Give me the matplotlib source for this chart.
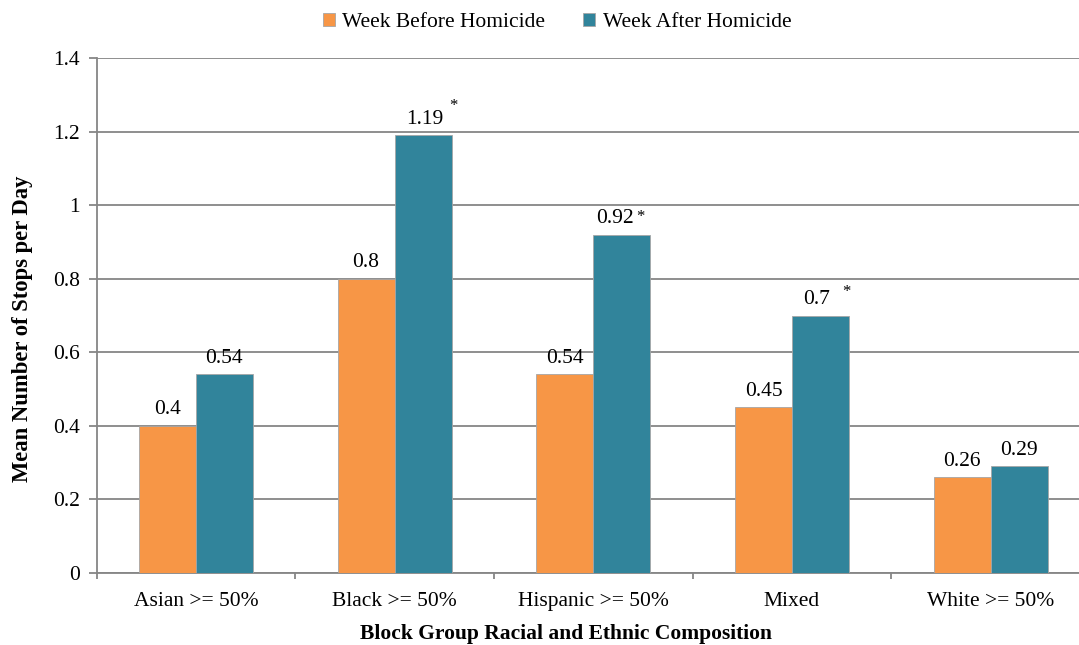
import matplotlib
matplotlib.use("Agg")
import matplotlib.pyplot as plt
import numpy as np

plt.rcParams['font.family'] = ['Liberation Serif', 'DejaVu Serif']

categories = ["Asian >= 50%", "Black >= 50%", "Hispanic >= 50%", "Mixed", "White >= 50%"]
week_before = [0.40, 0.80, 0.54, 0.45, 0.26]
week_after = [0.54, 1.19, 0.92, 0.70, 0.29]
before_labels = ["0.4", "0.8", "0.54", "0.45", "0.26"]
after_labels = ["0.54", "1.19", "0.92", "0.7", "0.29"]
significant = [False, True, True, True, False]
y_ticks = [0, 0.2, 0.4, 0.6, 0.8, 1.0, 1.2, 1.4]
y_tick_labels = ["0", "0.2", "0.4", "0.6", "0.8", "1", "1.2", "1.4"]

orange = "#F79646"
teal = "#31849B"
gray = "#868686"
fs = 15.5

fig = plt.figure(figsize=(10.79, 6.45), dpi=100)
ax = fig.add_axes([0.0895, 0.1116, 0.9207, 0.7984])

x = np.arange(len(categories))
w = 0.287
ax.bar(x - w / 2, week_before, w, color=orange, edgecolor="#A6A6A6", linewidth=0.6,
       label="Week Before Homicide", zorder=3)
ax.bar(x + w / 2, week_after, w, color=teal, edgecolor="#A6A6A6", linewidth=0.6,
       label="Week After Homicide", zorder=3)

ax.set_xlim(-0.5, len(categories) - 0.5)
ax.set_ylim(0, 1.4)
ax.set_yticks(y_ticks)
ax.set_yticklabels(y_tick_labels)
ax.yaxis.grid(True, color=gray, linewidth=1.3, zorder=0)
ax.set_axisbelow(True)

ax.set_xticks(x)
ax.set_xticklabels(categories)
ax.set_xticks(np.arange(-0.5, len(categories)), minor=True)
ax.tick_params(axis="x", which="major", length=0, pad=14, labelsize=fs)
ax.tick_params(axis="x", which="minor", length=4, width=1.3, color=gray)
ax.tick_params(axis="y", length=6, width=1.3, color=gray, labelsize=fs, pad=6)

for side in ["top", "right"]:
    ax.spines[side].set_visible(False)
for side in ["left", "bottom"]:
    ax.spines[side].set_color(gray)
    ax.spines[side].set_linewidth(1.3)

# value labels above each bar (offsets in pixels)
after_dx = [0, 2, -7, -4, 0]
for i in range(len(categories)):
    ax.annotate(before_labels[i], (x[i] - w / 2, week_before[i]), xytext=(0, 16),
                textcoords="offset pixels", ha="center", va="center", fontsize=fs)
    ax.annotate(after_labels[i], (x[i] + w / 2, week_after[i]), xytext=(after_dx[i], 16),
                textcoords="offset pixels", ha="center", va="center", fontsize=fs)

# significance markers
star_offsets = {1: (30, 29), 2: (19, 18), 3: (26, 24)}
for i, sig in enumerate(significant):
    if sig:
        ax.annotate("*", (x[i] + w / 2, week_after[i]), xytext=star_offsets[i],
                    textcoords="offset pixels", ha="center", va="center", fontsize=12)

fig.text(0.5246, 0.017, "Block Group Racial and Ethnic Composition", fontsize=fs,
         fontweight="bold", ha="center", va="center")
fig.text(0.0213, 0.49, "Mean Number of Stops per Day", fontsize=16.3,
         fontweight="bold", ha="center", va="center", rotation=90)

ax.legend(loc="upper center", bbox_to_anchor=(0.4635, 1.125), ncol=2, frameon=False,
          fontsize=fs, handlelength=0.55, handleheight=0.55, handletextpad=0.35,
          columnspacing=1.77)

fig.savefig("out.png", dpi=100)
